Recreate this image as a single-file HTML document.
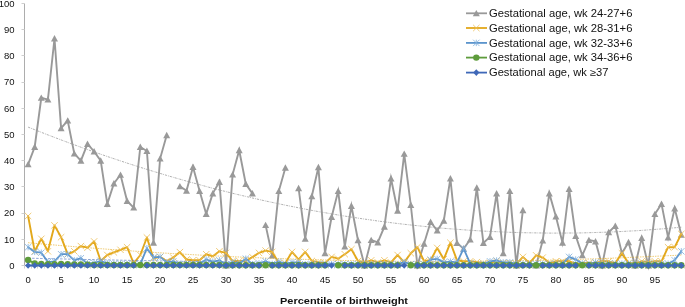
<!DOCTYPE html>
<html><head><meta charset="utf-8"><title>chart</title><style>html,body{margin:0;padding:0;background:#fff}</style></head><body>
<svg width="685" height="307" viewBox="0 0 685 307" style="display:block;will-change:transform">
<rect width="685" height="307" fill="#fff"/>
<path d="M24.5 3.5V265.5H685" stroke="#adadad" stroke-width="1" fill="none"/>
<path d="M21.5 265.5H24.5M21.5 239.5H24.5M21.5 213.5H24.5M21.5 186.5H24.5M21.5 160.5H24.5M21.5 134.5H24.5M21.5 108.5H24.5M21.5 82.5H24.5M21.5 55.5H24.5M21.5 29.5H24.5M21.5 3.5H24.5M24.5 265.5V268.5M31.5 265.5V268.5M37.5 265.5V268.5M44.5 265.5V268.5M51.5 265.5V268.5M57.5 265.5V268.5M64.5 265.5V268.5M70.5 265.5V268.5M77.5 265.5V268.5M84.5 265.5V268.5M90.5 265.5V268.5M97.5 265.5V268.5M103.5 265.5V268.5M110.5 265.5V268.5M117.5 265.5V268.5M123.5 265.5V268.5M130.5 265.5V268.5M136.5 265.5V268.5M143.5 265.5V268.5M150.5 265.5V268.5M156.5 265.5V268.5M163.5 265.5V268.5M169.5 265.5V268.5M176.5 265.5V268.5M183.5 265.5V268.5M189.5 265.5V268.5M196.5 265.5V268.5M202.5 265.5V268.5M209.5 265.5V268.5M216.5 265.5V268.5M222.5 265.5V268.5M229.5 265.5V268.5M235.5 265.5V268.5M242.5 265.5V268.5M249.5 265.5V268.5M255.5 265.5V268.5M262.5 265.5V268.5M268.5 265.5V268.5M275.5 265.5V268.5M282.5 265.5V268.5M288.5 265.5V268.5M295.5 265.5V268.5M301.5 265.5V268.5M308.5 265.5V268.5M315.5 265.5V268.5M321.5 265.5V268.5M328.5 265.5V268.5M334.5 265.5V268.5M341.5 265.5V268.5M348.5 265.5V268.5M354.5 265.5V268.5M361.5 265.5V268.5M367.5 265.5V268.5M374.5 265.5V268.5M381.5 265.5V268.5M387.5 265.5V268.5M394.5 265.5V268.5M400.5 265.5V268.5M407.5 265.5V268.5M414.5 265.5V268.5M420.5 265.5V268.5M427.5 265.5V268.5M433.5 265.5V268.5M440.5 265.5V268.5M447.5 265.5V268.5M453.5 265.5V268.5M460.5 265.5V268.5M466.5 265.5V268.5M473.5 265.5V268.5M480.5 265.5V268.5M486.5 265.5V268.5M493.5 265.5V268.5M499.5 265.5V268.5M506.5 265.5V268.5M513.5 265.5V268.5M519.5 265.5V268.5M526.5 265.5V268.5M532.5 265.5V268.5M539.5 265.5V268.5M546.5 265.5V268.5M552.5 265.5V268.5M559.5 265.5V268.5M565.5 265.5V268.5M572.5 265.5V268.5M579.5 265.5V268.5M585.5 265.5V268.5M592.5 265.5V268.5M598.5 265.5V268.5M605.5 265.5V268.5M612.5 265.5V268.5M618.5 265.5V268.5M625.5 265.5V268.5M631.5 265.5V268.5M638.5 265.5V268.5M645.5 265.5V268.5M651.5 265.5V268.5M658.5 265.5V268.5M664.5 265.5V268.5M671.5 265.5V268.5M678.5 265.5V268.5M684.5 265.5V268.5" stroke="#cfcfcf" stroke-width="1" fill="none"/>
<g font-family="Liberation Sans, sans-serif" font-size="9.5" fill="#111">
<text x="14.6" y="268.8" text-anchor="end">0</text>
<text x="14.6" y="242.6" text-anchor="end">10</text>
<text x="14.6" y="216.4" text-anchor="end">20</text>
<text x="14.6" y="190.2" text-anchor="end">30</text>
<text x="14.6" y="164.0" text-anchor="end">40</text>
<text x="14.6" y="137.8" text-anchor="end">50</text>
<text x="14.6" y="111.5" text-anchor="end">60</text>
<text x="14.6" y="85.3" text-anchor="end">70</text>
<text x="14.6" y="59.1" text-anchor="end">80</text>
<text x="14.6" y="32.9" text-anchor="end">90</text>
<text x="14.6" y="6.7" text-anchor="end">100</text>
<text x="28.1" y="282.5" text-anchor="middle">0</text>
<text x="61.1" y="282.5" text-anchor="middle">5</text>
<text x="94.1" y="282.5" text-anchor="middle">10</text>
<text x="127.1" y="282.5" text-anchor="middle">15</text>
<text x="160.1" y="282.5" text-anchor="middle">20</text>
<text x="193.0" y="282.5" text-anchor="middle">25</text>
<text x="226.0" y="282.5" text-anchor="middle">30</text>
<text x="259.0" y="282.5" text-anchor="middle">35</text>
<text x="292.0" y="282.5" text-anchor="middle">40</text>
<text x="325.0" y="282.5" text-anchor="middle">45</text>
<text x="358.0" y="282.5" text-anchor="middle">50</text>
<text x="391.0" y="282.5" text-anchor="middle">55</text>
<text x="424.0" y="282.5" text-anchor="middle">60</text>
<text x="457.0" y="282.5" text-anchor="middle">65</text>
<text x="490.0" y="282.5" text-anchor="middle">70</text>
<text x="522.9" y="282.5" text-anchor="middle">75</text>
<text x="555.9" y="282.5" text-anchor="middle">80</text>
<text x="588.9" y="282.5" text-anchor="middle">85</text>
<text x="621.9" y="282.5" text-anchor="middle">90</text>
<text x="654.9" y="282.5" text-anchor="middle">95</text>
</g>
<text x="344" y="303.6" text-anchor="middle" font-family="Liberation Sans, sans-serif" font-weight="bold" font-size="9.7" fill="#111" textLength="128" lengthAdjust="spacingAndGlyphs">Percentile of birthweight</text>
<polyline fill="none" stroke="#7a7a7a" stroke-width="0.6" stroke-dasharray="2.2 1 0.8 1" points="28.1,127.1 34.7,129.7 41.3,132.3 47.9,134.9 54.5,137.4 61.1,139.9 67.7,142.4 74.3,144.8 80.9,147.2 87.5,149.6 94.1,151.9 100.7,154.2 107.3,156.5 113.9,158.7 120.5,160.9 127.1,163.1 133.7,165.2 140.3,167.3 146.9,169.4 153.5,171.4 160.1,173.4 166.7,175.4 173.3,177.3 179.9,179.2 186.5,181.1 193.0,182.9 199.6,184.7 206.2,186.5 212.8,188.3 219.4,190.0 226.0,191.6 232.6,193.3 239.2,194.9 245.8,196.4 252.4,198.0 259.0,199.5 265.6,201.0 272.2,202.4 278.8,203.8 285.4,205.2 292.0,206.5 298.6,207.8 305.2,209.1 311.8,210.4 318.4,211.6 325.0,212.7 331.6,213.9 338.2,215.0 344.8,216.1 351.4,217.1 358.0,218.1 364.6,219.1 371.2,220.0 377.8,221.0 384.4,221.8 391.0,222.7 397.6,223.5 404.2,224.3 410.8,225.0 417.4,225.7 424.0,226.4 430.6,227.1 437.2,227.7 443.8,228.3 450.4,228.8 457.0,229.3 463.6,229.8 470.2,230.3 476.8,230.7 483.4,231.1 490.0,231.4 496.6,231.7 503.2,232.0 509.8,232.3 516.4,232.5 522.9,232.7 529.5,232.8 536.1,232.9 542.7,233.0 549.3,233.1 555.9,233.1 562.5,233.1 569.1,233.0 575.7,233.0 582.3,232.9 588.9,232.7 595.5,232.5 602.1,232.3 608.7,232.1 615.3,231.8 621.9,231.5 628.5,231.1 635.1,230.8 641.7,230.4 648.3,229.9 654.9,229.4 661.5,228.9 668.1,228.4 674.7,227.8 681.3,227.2"/>

<polyline fill="none" stroke="#999999" stroke-width="1.9" stroke-linejoin="miter" stroke-miterlimit="6" stroke-linecap="round" points="28.1,164.3 34.7,147.0 41.3,97.8 47.9,99.6 54.5,38.5 61.1,128.2 67.7,120.6 74.3,153.6 80.9,160.7 87.5,143.9 94.1,151.5 100.7,160.7 107.3,203.9 113.9,183.5 120.5,174.8 127.1,201.0 133.7,207.6 140.3,147.0 146.9,151.0 153.5,242.7 160.1,158.6 166.7,135.2"/>
<polyline fill="none" stroke="#999999" stroke-width="1.9" stroke-linejoin="miter" stroke-miterlimit="6" stroke-linecap="round" points="179.9,186.3 186.5,190.8 193.0,167.0 199.6,191.1 206.2,213.9 212.8,193.4 219.4,181.9 226.0,265.5 232.6,174.6 239.2,150.2 245.8,184.0 252.4,193.4"/>
<polyline fill="none" stroke="#999999" stroke-width="1.9" stroke-linejoin="miter" stroke-miterlimit="6" stroke-linecap="round" points="265.6,225.1 272.2,255.5 278.8,191.1 285.4,167.7"/>
<polyline fill="none" stroke="#999999" stroke-width="1.9" stroke-linejoin="miter" stroke-miterlimit="6" stroke-linecap="round" points="298.6,188.2 305.2,238.8 311.8,196.3 318.4,167.2 325.0,253.2 331.6,217.0 338.2,191.1 344.8,246.6 351.4,206.0 358.0,240.3 364.6,265.5 371.2,240.1 377.8,242.4 384.4,226.7 391.0,178.5 397.6,210.7 404.2,153.8 410.8,205.0 417.4,265.5 424.0,243.7 430.6,222.0 437.2,230.6 443.8,220.7 450.4,178.5 457.0,243.0 463.6,248.7 470.2,239.6 476.8,187.7 483.4,243.0 490.0,236.9 496.6,193.4 503.2,253.2 509.8,191.1 516.4,265.5 522.9,210.2"/>
<polyline fill="none" stroke="#999999" stroke-width="1.9" stroke-linejoin="miter" stroke-miterlimit="6" stroke-linecap="round" points="536.1,265.5 542.7,240.6 549.3,193.4 555.9,216.5 562.5,242.7 569.1,189.0 575.7,235.9 582.3,255.3 588.9,240.1 595.5,241.4 602.1,265.5 608.7,232.2 615.3,225.9 621.9,253.2 628.5,242.2 635.1,265.5 641.7,238.0 648.3,265.5 654.9,214.1 661.5,203.9 668.1,237.5 674.7,208.4 681.3,234.8"/>

<path d="M28.1 160.9L31.6 167.3L24.6 167.3Z" fill="#999999"/>
<path d="M34.7 143.6L38.2 150.0L31.2 150.0Z" fill="#999999"/>
<path d="M41.3 94.4L44.8 100.8L37.8 100.8Z" fill="#999999"/>
<path d="M47.9 96.2L51.4 102.6L44.4 102.6Z" fill="#999999"/>
<path d="M54.5 35.1L58.0 41.5L51.0 41.5Z" fill="#999999"/>
<path d="M61.1 124.8L64.6 131.2L57.6 131.2Z" fill="#999999"/>
<path d="M67.7 117.2L71.2 123.6L64.2 123.6Z" fill="#999999"/>
<path d="M74.3 150.2L77.8 156.6L70.8 156.6Z" fill="#999999"/>
<path d="M80.9 157.3L84.4 163.7L77.4 163.7Z" fill="#999999"/>
<path d="M87.5 140.5L91.0 146.9L84.0 146.9Z" fill="#999999"/>
<path d="M94.1 148.1L97.6 154.5L90.6 154.5Z" fill="#999999"/>
<path d="M100.7 157.3L104.2 163.7L97.2 163.7Z" fill="#999999"/>
<path d="M107.3 200.5L110.8 206.9L103.8 206.9Z" fill="#999999"/>
<path d="M113.9 180.1L117.4 186.5L110.4 186.5Z" fill="#999999"/>
<path d="M120.5 171.4L124.0 177.8L117.0 177.8Z" fill="#999999"/>
<path d="M127.1 197.6L130.6 204.0L123.6 204.0Z" fill="#999999"/>
<path d="M133.7 204.2L137.2 210.6L130.2 210.6Z" fill="#999999"/>
<path d="M140.3 143.6L143.8 150.0L136.8 150.0Z" fill="#999999"/>
<path d="M146.9 147.6L150.4 154.0L143.4 154.0Z" fill="#999999"/>
<path d="M153.5 239.3L157.0 245.7L150.0 245.7Z" fill="#999999"/>
<path d="M160.1 155.2L163.6 161.6L156.6 161.6Z" fill="#999999"/>
<path d="M166.7 131.8L170.2 138.2L163.2 138.2Z" fill="#999999"/>
<path d="M179.9 182.9L183.4 189.3L176.4 189.3Z" fill="#999999"/>
<path d="M186.5 187.4L190.0 193.8L183.0 193.8Z" fill="#999999"/>
<path d="M193.0 163.6L196.5 170.0L189.5 170.0Z" fill="#999999"/>
<path d="M199.6 187.7L203.1 194.1L196.1 194.1Z" fill="#999999"/>
<path d="M206.2 210.5L209.7 216.9L202.7 216.9Z" fill="#999999"/>
<path d="M212.8 190.0L216.3 196.4L209.3 196.4Z" fill="#999999"/>
<path d="M219.4 178.5L222.9 184.9L215.9 184.9Z" fill="#999999"/>
<path d="M226.0 262.1L229.5 268.5L222.5 268.5Z" fill="#999999"/>
<path d="M232.6 171.2L236.1 177.6L229.1 177.6Z" fill="#999999"/>
<path d="M239.2 146.8L242.7 153.2L235.7 153.2Z" fill="#999999"/>
<path d="M245.8 180.6L249.3 187.0L242.3 187.0Z" fill="#999999"/>
<path d="M252.4 190.0L255.9 196.4L248.9 196.4Z" fill="#999999"/>
<path d="M265.6 221.7L269.1 228.1L262.1 228.1Z" fill="#999999"/>
<path d="M272.2 252.1L275.7 258.5L268.7 258.5Z" fill="#999999"/>
<path d="M278.8 187.7L282.3 194.1L275.3 194.1Z" fill="#999999"/>
<path d="M285.4 164.3L288.9 170.7L281.9 170.7Z" fill="#999999"/>
<path d="M298.6 184.8L302.1 191.2L295.1 191.2Z" fill="#999999"/>
<path d="M305.2 235.4L308.7 241.8L301.7 241.8Z" fill="#999999"/>
<path d="M311.8 192.9L315.3 199.3L308.3 199.3Z" fill="#999999"/>
<path d="M318.4 163.8L321.9 170.2L314.9 170.2Z" fill="#999999"/>
<path d="M325.0 249.8L328.5 256.2L321.5 256.2Z" fill="#999999"/>
<path d="M331.6 213.6L335.1 220.0L328.1 220.0Z" fill="#999999"/>
<path d="M338.2 187.7L341.7 194.1L334.7 194.1Z" fill="#999999"/>
<path d="M344.8 243.2L348.3 249.6L341.3 249.6Z" fill="#999999"/>
<path d="M351.4 202.6L354.9 209.0L347.9 209.0Z" fill="#999999"/>
<path d="M358.0 236.9L361.5 243.3L354.5 243.3Z" fill="#999999"/>
<path d="M364.6 262.1L368.1 268.5L361.1 268.5Z" fill="#999999"/>
<path d="M371.2 236.7L374.7 243.1L367.7 243.1Z" fill="#999999"/>
<path d="M377.8 239.0L381.3 245.4L374.3 245.4Z" fill="#999999"/>
<path d="M384.4 223.3L387.9 229.7L380.9 229.7Z" fill="#999999"/>
<path d="M391.0 175.1L394.5 181.5L387.5 181.5Z" fill="#999999"/>
<path d="M397.6 207.3L401.1 213.7L394.1 213.7Z" fill="#999999"/>
<path d="M404.2 150.4L407.7 156.8L400.7 156.8Z" fill="#999999"/>
<path d="M410.8 201.6L414.3 208.0L407.3 208.0Z" fill="#999999"/>
<path d="M417.4 262.1L420.9 268.5L413.9 268.5Z" fill="#999999"/>
<path d="M424.0 240.3L427.5 246.7L420.5 246.7Z" fill="#999999"/>
<path d="M430.6 218.6L434.1 225.0L427.1 225.0Z" fill="#999999"/>
<path d="M437.2 227.2L440.7 233.6L433.7 233.6Z" fill="#999999"/>
<path d="M443.8 217.3L447.3 223.7L440.3 223.7Z" fill="#999999"/>
<path d="M450.4 175.1L453.9 181.5L446.9 181.5Z" fill="#999999"/>
<path d="M457.0 239.6L460.5 246.0L453.5 246.0Z" fill="#999999"/>
<path d="M463.6 245.3L467.1 251.7L460.1 251.7Z" fill="#999999"/>
<path d="M470.2 236.2L473.7 242.6L466.7 242.6Z" fill="#999999"/>
<path d="M476.8 184.3L480.3 190.7L473.3 190.7Z" fill="#999999"/>
<path d="M483.4 239.6L486.9 246.0L479.9 246.0Z" fill="#999999"/>
<path d="M490.0 233.5L493.5 239.9L486.5 239.9Z" fill="#999999"/>
<path d="M496.6 190.0L500.1 196.4L493.1 196.4Z" fill="#999999"/>
<path d="M503.2 249.8L506.7 256.2L499.7 256.2Z" fill="#999999"/>
<path d="M509.8 187.7L513.3 194.1L506.3 194.1Z" fill="#999999"/>
<path d="M516.4 262.1L519.9 268.5L512.9 268.5Z" fill="#999999"/>
<path d="M522.9 206.8L526.4 213.2L519.4 213.2Z" fill="#999999"/>
<path d="M536.1 262.1L539.6 268.5L532.6 268.5Z" fill="#999999"/>
<path d="M542.7 237.2L546.2 243.6L539.2 243.6Z" fill="#999999"/>
<path d="M549.3 190.0L552.8 196.4L545.8 196.4Z" fill="#999999"/>
<path d="M555.9 213.1L559.4 219.5L552.4 219.5Z" fill="#999999"/>
<path d="M562.5 239.3L566.0 245.7L559.0 245.7Z" fill="#999999"/>
<path d="M569.1 185.6L572.6 192.0L565.6 192.0Z" fill="#999999"/>
<path d="M575.7 232.5L579.2 238.9L572.2 238.9Z" fill="#999999"/>
<path d="M582.3 251.9L585.8 258.3L578.8 258.3Z" fill="#999999"/>
<path d="M588.9 236.7L592.4 243.1L585.4 243.1Z" fill="#999999"/>
<path d="M595.5 238.0L599.0 244.4L592.0 244.4Z" fill="#999999"/>
<path d="M602.1 262.1L605.6 268.5L598.6 268.5Z" fill="#999999"/>
<path d="M608.7 228.8L612.2 235.2L605.2 235.2Z" fill="#999999"/>
<path d="M615.3 222.5L618.8 228.9L611.8 228.9Z" fill="#999999"/>
<path d="M621.9 249.8L625.4 256.2L618.4 256.2Z" fill="#999999"/>
<path d="M628.5 238.8L632.0 245.2L625.0 245.2Z" fill="#999999"/>
<path d="M635.1 262.1L638.6 268.5L631.6 268.5Z" fill="#999999"/>
<path d="M641.7 234.6L645.2 241.0L638.2 241.0Z" fill="#999999"/>
<path d="M648.3 262.1L651.8 268.5L644.8 268.5Z" fill="#999999"/>
<path d="M654.9 210.7L658.4 217.1L651.4 217.1Z" fill="#999999"/>
<path d="M661.5 200.5L665.0 206.9L658.0 206.9Z" fill="#999999"/>
<path d="M668.1 234.1L671.6 240.5L664.6 240.5Z" fill="#999999"/>
<path d="M674.7 205.0L678.2 211.4L671.2 211.4Z" fill="#999999"/>
<path d="M681.3 231.4L684.8 237.8L677.8 237.8Z" fill="#999999"/>

<polyline fill="none" stroke="#E3A81A" stroke-width="0.6" stroke-dasharray="1.5 1" points="28.1,242.7 34.7,243.3 41.3,243.9 47.9,244.5 54.5,245.0 61.1,245.6 67.7,246.1 74.3,246.7 80.9,247.2 87.5,247.7 94.1,248.2 100.7,248.7 107.3,249.2 113.9,249.7 120.5,250.2 127.1,250.6 133.7,251.1 140.3,251.5 146.9,252.0 153.5,252.4 160.1,252.8 166.7,253.2 173.3,253.6 179.9,254.0 186.5,254.3 193.0,254.7 199.6,255.1 206.2,255.4 212.8,255.8 219.4,256.1 226.0,256.4 232.6,256.7 239.2,257.0 245.8,257.3 252.4,257.6 259.0,257.8 265.6,258.1 272.2,258.3 278.8,258.6 285.4,258.8 292.0,259.0 298.6,259.2 305.2,259.4 311.8,259.6 318.4,259.8 325.0,260.0 331.6,260.2 338.2,260.3 344.8,260.5 351.4,260.6 358.0,260.7 364.6,260.8 371.2,260.9 377.8,261.0 384.4,261.1 391.0,261.2 397.6,261.3 404.2,261.3 410.8,261.4 417.4,261.4 424.0,261.4 430.6,261.4 437.2,261.5 443.8,261.5 450.4,261.4 457.0,261.4 463.6,261.4 470.2,261.4 476.8,261.3 483.4,261.2 490.0,261.2 496.6,261.1 503.2,261.0 509.8,260.9 516.4,260.8 522.9,260.7 529.5,260.6 536.1,260.4 542.7,260.3 549.3,260.1 555.9,260.0 562.5,259.8 569.1,259.6 575.7,259.4 582.3,259.2 588.9,259.0 595.5,258.8 602.1,258.5 608.7,258.3 615.3,258.0 621.9,257.8 628.5,257.5 635.1,257.2 641.7,256.9 648.3,256.6 654.9,256.3 661.5,256.0 668.1,255.7 674.7,255.4 681.3,255.0"/>

<polyline fill="none" stroke="#E3A81A" stroke-width="1.9" stroke-linejoin="round" stroke-miterlimit="6" stroke-linecap="round" points="28.1,216.0 34.7,251.3 41.3,238.8 47.9,251.3 54.5,225.4 61.1,237.2 67.7,254.2 74.3,251.3 80.9,246.1 87.5,247.7 94.1,241.4 100.7,261.0 107.3,255.0 113.9,252.4 120.5,249.8 127.1,247.2 133.7,263.4 140.3,255.0 146.9,237.5 153.5,258.4 160.1,256.9 166.7,261.0 173.3,257.6 179.9,252.1 186.5,259.5 193.0,260.3 199.6,260.3 206.2,254.2 212.8,256.3 219.4,251.3 226.0,252.9 232.6,261.0 239.2,261.0 245.8,261.0 252.4,257.1 259.0,252.9 265.6,250.6 272.2,251.9 278.8,263.1 285.4,263.1 292.0,251.9 298.6,259.5 305.2,251.9 311.8,261.0 318.4,262.1 325.0,263.1 331.6,256.9 338.2,258.7 344.8,254.2 351.4,249.2 358.0,261.0 364.6,262.9 371.2,260.3 377.8,262.4 384.4,260.3 391.0,262.4 397.6,255.0 404.2,262.4 410.8,253.2 417.4,247.2 424.0,261.0 430.6,260.3 437.2,247.9 443.8,259.2 450.4,242.7 457.0,260.3 463.6,261.3 470.2,261.3 476.8,262.1 483.4,263.1 490.0,262.9 496.6,261.0 503.2,263.1 509.8,263.1 516.4,264.2 522.9,256.9 529.5,263.1 536.1,255.3 542.7,257.6 549.3,263.1 555.9,261.3 562.5,261.3 569.1,261.0 575.7,264.2 582.3,263.1 588.9,262.9 595.5,262.9 602.1,261.3 608.7,261.3 615.3,263.1 621.9,253.2 628.5,263.1 635.1,263.1 641.7,261.3 648.3,262.1 654.9,261.3 661.5,261.3 668.1,247.2 674.7,247.2 681.3,234.0"/>

<path d="M24.9 212.8L31.3 219.2M24.9 219.2L31.3 212.8" stroke="#ECBE55" stroke-width="0.8" fill="none"/>
<path d="M31.5 248.1L37.9 254.5M31.5 254.5L37.9 248.1" stroke="#ECBE55" stroke-width="0.8" fill="none"/>
<path d="M38.1 235.6L44.5 242.0M38.1 242.0L44.5 235.6" stroke="#ECBE55" stroke-width="0.8" fill="none"/>
<path d="M44.7 248.1L51.1 254.5M44.7 254.5L51.1 248.1" stroke="#ECBE55" stroke-width="0.8" fill="none"/>
<path d="M51.3 222.2L57.7 228.6M51.3 228.6L57.7 222.2" stroke="#ECBE55" stroke-width="0.8" fill="none"/>
<path d="M57.9 234.0L64.3 240.4M57.9 240.4L64.3 234.0" stroke="#ECBE55" stroke-width="0.8" fill="none"/>
<path d="M64.5 251.0L70.9 257.4M64.5 257.4L70.9 251.0" stroke="#ECBE55" stroke-width="0.8" fill="none"/>
<path d="M71.1 248.1L77.5 254.5M71.1 254.5L77.5 248.1" stroke="#ECBE55" stroke-width="0.8" fill="none"/>
<path d="M77.7 242.9L84.1 249.3M77.7 249.3L84.1 242.9" stroke="#ECBE55" stroke-width="0.8" fill="none"/>
<path d="M84.3 244.5L90.7 250.9M84.3 250.9L90.7 244.5" stroke="#ECBE55" stroke-width="0.8" fill="none"/>
<path d="M90.9 238.2L97.3 244.6M90.9 244.6L97.3 238.2" stroke="#ECBE55" stroke-width="0.8" fill="none"/>
<path d="M97.5 257.8L103.9 264.2M97.5 264.2L103.9 257.8" stroke="#ECBE55" stroke-width="0.8" fill="none"/>
<path d="M104.1 251.8L110.5 258.2M104.1 258.2L110.5 251.8" stroke="#ECBE55" stroke-width="0.8" fill="none"/>
<path d="M110.7 249.2L117.1 255.6M110.7 255.6L117.1 249.2" stroke="#ECBE55" stroke-width="0.8" fill="none"/>
<path d="M117.3 246.6L123.7 253.0M117.3 253.0L123.7 246.6" stroke="#ECBE55" stroke-width="0.8" fill="none"/>
<path d="M123.9 244.0L130.3 250.4M123.9 250.4L130.3 244.0" stroke="#ECBE55" stroke-width="0.8" fill="none"/>
<path d="M130.5 260.2L136.9 266.6M130.5 266.6L136.9 260.2" stroke="#ECBE55" stroke-width="0.8" fill="none"/>
<path d="M137.1 251.8L143.5 258.2M137.1 258.2L143.5 251.8" stroke="#ECBE55" stroke-width="0.8" fill="none"/>
<path d="M143.7 234.3L150.1 240.7M143.7 240.7L150.1 234.3" stroke="#ECBE55" stroke-width="0.8" fill="none"/>
<path d="M150.3 255.2L156.7 261.6M150.3 261.6L156.7 255.2" stroke="#ECBE55" stroke-width="0.8" fill="none"/>
<path d="M156.9 253.7L163.3 260.1M156.9 260.1L163.3 253.7" stroke="#ECBE55" stroke-width="0.8" fill="none"/>
<path d="M163.5 257.8L169.9 264.2M163.5 264.2L169.9 257.8" stroke="#ECBE55" stroke-width="0.8" fill="none"/>
<path d="M170.1 254.4L176.5 260.8M170.1 260.8L176.5 254.4" stroke="#ECBE55" stroke-width="0.8" fill="none"/>
<path d="M176.7 248.9L183.1 255.3M176.7 255.3L183.1 248.9" stroke="#ECBE55" stroke-width="0.8" fill="none"/>
<path d="M183.3 256.3L189.7 262.7M183.3 262.7L189.7 256.3" stroke="#ECBE55" stroke-width="0.8" fill="none"/>
<path d="M189.8 257.1L196.2 263.5M189.8 263.5L196.2 257.1" stroke="#ECBE55" stroke-width="0.8" fill="none"/>
<path d="M196.4 257.1L202.8 263.5M196.4 263.5L202.8 257.1" stroke="#ECBE55" stroke-width="0.8" fill="none"/>
<path d="M203.0 251.0L209.4 257.4M203.0 257.4L209.4 251.0" stroke="#ECBE55" stroke-width="0.8" fill="none"/>
<path d="M209.6 253.1L216.0 259.5M209.6 259.5L216.0 253.1" stroke="#ECBE55" stroke-width="0.8" fill="none"/>
<path d="M216.2 248.1L222.6 254.5M216.2 254.5L222.6 248.1" stroke="#ECBE55" stroke-width="0.8" fill="none"/>
<path d="M222.8 249.7L229.2 256.1M222.8 256.1L229.2 249.7" stroke="#ECBE55" stroke-width="0.8" fill="none"/>
<path d="M229.4 257.8L235.8 264.2M229.4 264.2L235.8 257.8" stroke="#ECBE55" stroke-width="0.8" fill="none"/>
<path d="M236.0 257.8L242.4 264.2M236.0 264.2L242.4 257.8" stroke="#ECBE55" stroke-width="0.8" fill="none"/>
<path d="M242.6 257.8L249.0 264.2M242.6 264.2L249.0 257.8" stroke="#ECBE55" stroke-width="0.8" fill="none"/>
<path d="M249.2 253.9L255.6 260.3M249.2 260.3L255.6 253.9" stroke="#ECBE55" stroke-width="0.8" fill="none"/>
<path d="M255.8 249.7L262.2 256.1M255.8 256.1L262.2 249.7" stroke="#ECBE55" stroke-width="0.8" fill="none"/>
<path d="M262.4 247.4L268.8 253.8M262.4 253.8L268.8 247.4" stroke="#ECBE55" stroke-width="0.8" fill="none"/>
<path d="M269.0 248.7L275.4 255.1M269.0 255.1L275.4 248.7" stroke="#ECBE55" stroke-width="0.8" fill="none"/>
<path d="M275.6 259.9L282.0 266.3M275.6 266.3L282.0 259.9" stroke="#ECBE55" stroke-width="0.8" fill="none"/>
<path d="M282.2 259.9L288.6 266.3M282.2 266.3L288.6 259.9" stroke="#ECBE55" stroke-width="0.8" fill="none"/>
<path d="M288.8 248.7L295.2 255.1M288.8 255.1L295.2 248.7" stroke="#ECBE55" stroke-width="0.8" fill="none"/>
<path d="M295.4 256.3L301.8 262.7M295.4 262.7L301.8 256.3" stroke="#ECBE55" stroke-width="0.8" fill="none"/>
<path d="M302.0 248.7L308.4 255.1M302.0 255.1L308.4 248.7" stroke="#ECBE55" stroke-width="0.8" fill="none"/>
<path d="M308.6 257.8L315.0 264.2M308.6 264.2L315.0 257.8" stroke="#ECBE55" stroke-width="0.8" fill="none"/>
<path d="M315.2 258.9L321.6 265.3M315.2 265.3L321.6 258.9" stroke="#ECBE55" stroke-width="0.8" fill="none"/>
<path d="M321.8 259.9L328.2 266.3M321.8 266.3L328.2 259.9" stroke="#ECBE55" stroke-width="0.8" fill="none"/>
<path d="M328.4 253.7L334.8 260.1M328.4 260.1L334.8 253.7" stroke="#ECBE55" stroke-width="0.8" fill="none"/>
<path d="M335.0 255.5L341.4 261.9M335.0 261.9L341.4 255.5" stroke="#ECBE55" stroke-width="0.8" fill="none"/>
<path d="M341.6 251.0L348.0 257.4M341.6 257.4L348.0 251.0" stroke="#ECBE55" stroke-width="0.8" fill="none"/>
<path d="M348.2 246.0L354.6 252.4M348.2 252.4L354.6 246.0" stroke="#ECBE55" stroke-width="0.8" fill="none"/>
<path d="M354.8 257.8L361.2 264.2M354.8 264.2L361.2 257.8" stroke="#ECBE55" stroke-width="0.8" fill="none"/>
<path d="M361.4 259.7L367.8 266.1M361.4 266.1L367.8 259.7" stroke="#ECBE55" stroke-width="0.8" fill="none"/>
<path d="M368.0 257.1L374.4 263.5M368.0 263.5L374.4 257.1" stroke="#ECBE55" stroke-width="0.8" fill="none"/>
<path d="M374.6 259.2L381.0 265.6M374.6 265.6L381.0 259.2" stroke="#ECBE55" stroke-width="0.8" fill="none"/>
<path d="M381.2 257.1L387.6 263.5M381.2 263.5L387.6 257.1" stroke="#ECBE55" stroke-width="0.8" fill="none"/>
<path d="M387.8 259.2L394.2 265.6M387.8 265.6L394.2 259.2" stroke="#ECBE55" stroke-width="0.8" fill="none"/>
<path d="M394.4 251.8L400.8 258.2M394.4 258.2L400.8 251.8" stroke="#ECBE55" stroke-width="0.8" fill="none"/>
<path d="M401.0 259.2L407.4 265.6M401.0 265.6L407.4 259.2" stroke="#ECBE55" stroke-width="0.8" fill="none"/>
<path d="M407.6 250.0L414.0 256.4M407.6 256.4L414.0 250.0" stroke="#ECBE55" stroke-width="0.8" fill="none"/>
<path d="M414.2 244.0L420.6 250.4M414.2 250.4L420.6 244.0" stroke="#ECBE55" stroke-width="0.8" fill="none"/>
<path d="M420.8 257.8L427.2 264.2M420.8 264.2L427.2 257.8" stroke="#ECBE55" stroke-width="0.8" fill="none"/>
<path d="M427.4 257.1L433.8 263.5M427.4 263.5L433.8 257.1" stroke="#ECBE55" stroke-width="0.8" fill="none"/>
<path d="M434.0 244.7L440.4 251.1M434.0 251.1L440.4 244.7" stroke="#ECBE55" stroke-width="0.8" fill="none"/>
<path d="M440.6 256.0L447.0 262.4M440.6 262.4L447.0 256.0" stroke="#ECBE55" stroke-width="0.8" fill="none"/>
<path d="M447.2 239.5L453.6 245.9M447.2 245.9L453.6 239.5" stroke="#ECBE55" stroke-width="0.8" fill="none"/>
<path d="M453.8 257.1L460.2 263.5M453.8 263.5L460.2 257.1" stroke="#ECBE55" stroke-width="0.8" fill="none"/>
<path d="M460.4 258.1L466.8 264.5M460.4 264.5L466.8 258.1" stroke="#ECBE55" stroke-width="0.8" fill="none"/>
<path d="M467.0 258.1L473.4 264.5M467.0 264.5L473.4 258.1" stroke="#ECBE55" stroke-width="0.8" fill="none"/>
<path d="M473.6 258.9L480.0 265.3M473.6 265.3L480.0 258.9" stroke="#ECBE55" stroke-width="0.8" fill="none"/>
<path d="M480.2 259.9L486.6 266.3M480.2 266.3L486.6 259.9" stroke="#ECBE55" stroke-width="0.8" fill="none"/>
<path d="M486.8 259.7L493.2 266.1M486.8 266.1L493.2 259.7" stroke="#ECBE55" stroke-width="0.8" fill="none"/>
<path d="M493.4 257.8L499.8 264.2M493.4 264.2L499.8 257.8" stroke="#ECBE55" stroke-width="0.8" fill="none"/>
<path d="M500.0 259.9L506.4 266.3M500.0 266.3L506.4 259.9" stroke="#ECBE55" stroke-width="0.8" fill="none"/>
<path d="M506.6 259.9L513.0 266.3M506.6 266.3L513.0 259.9" stroke="#ECBE55" stroke-width="0.8" fill="none"/>
<path d="M513.2 261.0L519.6 267.4M513.2 267.4L519.6 261.0" stroke="#ECBE55" stroke-width="0.8" fill="none"/>
<path d="M519.7 253.7L526.1 260.1M519.7 260.1L526.1 253.7" stroke="#ECBE55" stroke-width="0.8" fill="none"/>
<path d="M526.3 259.9L532.7 266.3M526.3 266.3L532.7 259.9" stroke="#ECBE55" stroke-width="0.8" fill="none"/>
<path d="M532.9 252.1L539.3 258.5M532.9 258.5L539.3 252.1" stroke="#ECBE55" stroke-width="0.8" fill="none"/>
<path d="M539.5 254.4L545.9 260.8M539.5 260.8L545.9 254.4" stroke="#ECBE55" stroke-width="0.8" fill="none"/>
<path d="M546.1 259.9L552.5 266.3M546.1 266.3L552.5 259.9" stroke="#ECBE55" stroke-width="0.8" fill="none"/>
<path d="M552.7 258.1L559.1 264.5M552.7 264.5L559.1 258.1" stroke="#ECBE55" stroke-width="0.8" fill="none"/>
<path d="M559.3 258.1L565.7 264.5M559.3 264.5L565.7 258.1" stroke="#ECBE55" stroke-width="0.8" fill="none"/>
<path d="M565.9 257.8L572.3 264.2M565.9 264.2L572.3 257.8" stroke="#ECBE55" stroke-width="0.8" fill="none"/>
<path d="M572.5 261.0L578.9 267.4M572.5 267.4L578.9 261.0" stroke="#ECBE55" stroke-width="0.8" fill="none"/>
<path d="M579.1 259.9L585.5 266.3M579.1 266.3L585.5 259.9" stroke="#ECBE55" stroke-width="0.8" fill="none"/>
<path d="M585.7 259.7L592.1 266.1M585.7 266.1L592.1 259.7" stroke="#ECBE55" stroke-width="0.8" fill="none"/>
<path d="M592.3 259.7L598.7 266.1M592.3 266.1L598.7 259.7" stroke="#ECBE55" stroke-width="0.8" fill="none"/>
<path d="M598.9 258.1L605.3 264.5M598.9 264.5L605.3 258.1" stroke="#ECBE55" stroke-width="0.8" fill="none"/>
<path d="M605.5 258.1L611.9 264.5M605.5 264.5L611.9 258.1" stroke="#ECBE55" stroke-width="0.8" fill="none"/>
<path d="M612.1 259.9L618.5 266.3M612.1 266.3L618.5 259.9" stroke="#ECBE55" stroke-width="0.8" fill="none"/>
<path d="M618.7 250.0L625.1 256.4M618.7 256.4L625.1 250.0" stroke="#ECBE55" stroke-width="0.8" fill="none"/>
<path d="M625.3 259.9L631.7 266.3M625.3 266.3L631.7 259.9" stroke="#ECBE55" stroke-width="0.8" fill="none"/>
<path d="M631.9 259.9L638.3 266.3M631.9 266.3L638.3 259.9" stroke="#ECBE55" stroke-width="0.8" fill="none"/>
<path d="M638.5 258.1L644.9 264.5M638.5 264.5L644.9 258.1" stroke="#ECBE55" stroke-width="0.8" fill="none"/>
<path d="M645.1 258.9L651.5 265.3M645.1 265.3L651.5 258.9" stroke="#ECBE55" stroke-width="0.8" fill="none"/>
<path d="M651.7 258.1L658.1 264.5M651.7 264.5L658.1 258.1" stroke="#ECBE55" stroke-width="0.8" fill="none"/>
<path d="M658.3 258.1L664.7 264.5M658.3 264.5L664.7 258.1" stroke="#ECBE55" stroke-width="0.8" fill="none"/>
<path d="M664.9 244.0L671.3 250.4M664.9 250.4L671.3 244.0" stroke="#ECBE55" stroke-width="0.8" fill="none"/>
<path d="M671.5 244.0L677.9 250.4M671.5 250.4L677.9 244.0" stroke="#ECBE55" stroke-width="0.8" fill="none"/>
<path d="M678.1 230.8L684.5 237.2M678.1 237.2L684.5 230.8" stroke="#ECBE55" stroke-width="0.8" fill="none"/>

<polyline fill="none" stroke="#3F68B8" stroke-width="0.6" stroke-dasharray="2.5 1.5" points="28.1,258.2 34.7,258.3 41.3,258.5 47.9,258.6 54.5,258.8 61.1,258.9 67.7,259.1 74.3,259.2 80.9,259.4 87.5,259.5 94.1,259.6 100.7,259.8 107.3,259.9 113.9,260.0 120.5,260.2 127.1,260.3 133.7,260.4 140.3,260.5 146.9,260.7 153.5,260.8 160.1,260.9 166.7,261.0 173.3,261.1 179.9,261.2 186.5,261.3 193.0,261.4 199.6,261.5 206.2,261.6 212.8,261.7 219.4,261.8 226.0,261.9 232.6,262.0 239.2,262.1 245.8,262.2 252.4,262.3 259.0,262.4 265.6,262.5 272.2,262.5 278.8,262.6 285.4,262.7 292.0,262.8 298.6,262.8 305.2,262.9 311.8,263.0 318.4,263.1 325.0,263.1 331.6,263.2 338.2,263.2 344.8,263.3 351.4,263.3 358.0,263.4 364.6,263.5 371.2,263.5 377.8,263.6 384.4,263.6 391.0,263.6 397.6,263.7 404.2,263.7 410.8,263.8 417.4,263.8 424.0,263.8 430.6,263.9 437.2,263.9 443.8,263.9 450.4,263.9 457.0,264.0 463.6,264.0 470.2,264.0 476.8,264.0 483.4,264.0 490.0,264.0 496.6,264.0 503.2,264.0 509.8,264.1 516.4,264.1 522.9,264.1 529.5,264.1 536.1,264.1 542.7,264.0 549.3,264.0 555.9,264.0 562.5,264.0 569.1,264.0 575.7,264.0 582.3,264.0 588.9,264.0 595.5,263.9 602.1,263.9 608.7,263.9 615.3,263.9 621.9,263.8 628.5,263.8 635.1,263.8 641.7,263.7 648.3,263.7 654.9,263.6 661.5,263.6 668.1,263.6 674.7,263.5 681.3,263.5"/>

<polyline fill="none" stroke="#5B94CC" stroke-width="1.8" stroke-linejoin="round" stroke-miterlimit="6" stroke-linecap="round" points="28.1,247.2 34.7,251.9 41.3,252.7 47.9,262.1 54.5,261.3 61.1,254.2 67.7,254.2 74.3,260.3 80.9,258.2 87.5,263.4 94.1,262.9 100.7,261.0 107.3,263.4 113.9,263.9 120.5,263.9 127.1,264.2 133.7,264.2 140.3,264.2 146.9,248.2 153.5,257.4 160.1,256.9 166.7,262.4 173.3,261.3 179.9,264.2 186.5,264.2 193.0,264.2 199.6,263.7 206.2,259.5 212.8,261.6 219.4,260.3 226.0,264.2 232.6,262.4 239.2,263.4 245.8,258.7 252.4,264.2 259.0,263.4 265.6,261.3 272.2,263.9 278.8,261.6 285.4,263.9 292.0,262.4 298.6,262.4 305.2,264.2 311.8,264.2 318.4,264.2 325.0,264.2 331.6,264.2 338.2,264.2 344.8,264.2 351.4,264.2 358.0,264.2 364.6,264.2 371.2,264.2 377.8,264.2 384.4,264.2 391.0,264.2 397.6,264.2 404.2,262.1 410.8,264.2 417.4,264.2 424.0,264.2 430.6,259.7 437.2,258.9 443.8,262.4 450.4,261.6 457.0,262.4 463.6,248.7 470.2,263.4 476.8,264.7 483.4,264.2 490.0,261.3 496.6,260.5 503.2,262.4 509.8,262.4 516.4,263.9 522.9,263.9 529.5,263.9 536.1,263.9 542.7,263.9 549.3,263.9 555.9,263.9 562.5,263.9 569.1,256.9 575.7,259.5 582.3,263.4 588.9,264.2 595.5,262.4 602.1,263.7 608.7,263.7 615.3,263.7 621.9,263.7 628.5,263.7 635.1,263.7 641.7,263.7 648.3,263.7 654.9,263.7 661.5,263.7 668.1,263.7 674.7,260.3 681.3,251.3"/>

<path d="M24.9 244.0L31.3 250.4M24.9 250.4L31.3 244.0M28.1 244.0L28.1 250.4" stroke="#7FAEDC" stroke-width="0.8" fill="none"/>
<path d="M31.5 248.7L37.9 255.1M31.5 255.1L37.9 248.7M34.7 248.7L34.7 255.1" stroke="#7FAEDC" stroke-width="0.8" fill="none"/>
<path d="M38.1 249.5L44.5 255.9M38.1 255.9L44.5 249.5M41.3 249.5L41.3 255.9" stroke="#7FAEDC" stroke-width="0.8" fill="none"/>
<path d="M44.7 258.9L51.1 265.3M44.7 265.3L51.1 258.9M47.9 258.9L47.9 265.3" stroke="#7FAEDC" stroke-width="0.8" fill="none"/>
<path d="M51.3 258.1L57.7 264.5M51.3 264.5L57.7 258.1M54.5 258.1L54.5 264.5" stroke="#7FAEDC" stroke-width="0.8" fill="none"/>
<path d="M57.9 251.0L64.3 257.4M57.9 257.4L64.3 251.0M61.1 251.0L61.1 257.4" stroke="#7FAEDC" stroke-width="0.8" fill="none"/>
<path d="M64.5 251.0L70.9 257.4M64.5 257.4L70.9 251.0M67.7 251.0L67.7 257.4" stroke="#7FAEDC" stroke-width="0.8" fill="none"/>
<path d="M71.1 257.1L77.5 263.5M71.1 263.5L77.5 257.1M74.3 257.1L74.3 263.5" stroke="#7FAEDC" stroke-width="0.8" fill="none"/>
<path d="M77.7 255.0L84.1 261.4M77.7 261.4L84.1 255.0M80.9 255.0L80.9 261.4" stroke="#7FAEDC" stroke-width="0.8" fill="none"/>
<path d="M84.3 260.2L90.7 266.6M84.3 266.6L90.7 260.2M87.5 260.2L87.5 266.6" stroke="#7FAEDC" stroke-width="0.8" fill="none"/>
<path d="M90.9 259.7L97.3 266.1M90.9 266.1L97.3 259.7M94.1 259.7L94.1 266.1" stroke="#7FAEDC" stroke-width="0.8" fill="none"/>
<path d="M97.5 257.8L103.9 264.2M97.5 264.2L103.9 257.8M100.7 257.8L100.7 264.2" stroke="#7FAEDC" stroke-width="0.8" fill="none"/>
<path d="M104.1 260.2L110.5 266.6M104.1 266.6L110.5 260.2M107.3 260.2L107.3 266.6" stroke="#7FAEDC" stroke-width="0.8" fill="none"/>
<path d="M110.7 260.7L117.1 267.1M110.7 267.1L117.1 260.7M113.9 260.7L113.9 267.1" stroke="#7FAEDC" stroke-width="0.8" fill="none"/>
<path d="M117.3 260.7L123.7 267.1M117.3 267.1L123.7 260.7M120.5 260.7L120.5 267.1" stroke="#7FAEDC" stroke-width="0.8" fill="none"/>
<path d="M123.9 261.0L130.3 267.4M123.9 267.4L130.3 261.0M127.1 261.0L127.1 267.4" stroke="#7FAEDC" stroke-width="0.8" fill="none"/>
<path d="M130.5 261.0L136.9 267.4M130.5 267.4L136.9 261.0M133.7 261.0L133.7 267.4" stroke="#7FAEDC" stroke-width="0.8" fill="none"/>
<path d="M137.1 261.0L143.5 267.4M137.1 267.4L143.5 261.0M140.3 261.0L140.3 267.4" stroke="#7FAEDC" stroke-width="0.8" fill="none"/>
<path d="M143.7 245.0L150.1 251.4M143.7 251.4L150.1 245.0M146.9 245.0L146.9 251.4" stroke="#7FAEDC" stroke-width="0.8" fill="none"/>
<path d="M150.3 254.2L156.7 260.6M150.3 260.6L156.7 254.2M153.5 254.2L153.5 260.6" stroke="#7FAEDC" stroke-width="0.8" fill="none"/>
<path d="M156.9 253.7L163.3 260.1M156.9 260.1L163.3 253.7M160.1 253.7L160.1 260.1" stroke="#7FAEDC" stroke-width="0.8" fill="none"/>
<path d="M163.5 259.2L169.9 265.6M163.5 265.6L169.9 259.2M166.7 259.2L166.7 265.6" stroke="#7FAEDC" stroke-width="0.8" fill="none"/>
<path d="M170.1 258.1L176.5 264.5M170.1 264.5L176.5 258.1M173.3 258.1L173.3 264.5" stroke="#7FAEDC" stroke-width="0.8" fill="none"/>
<path d="M176.7 261.0L183.1 267.4M176.7 267.4L183.1 261.0M179.9 261.0L179.9 267.4" stroke="#7FAEDC" stroke-width="0.8" fill="none"/>
<path d="M183.3 261.0L189.7 267.4M183.3 267.4L189.7 261.0M186.5 261.0L186.5 267.4" stroke="#7FAEDC" stroke-width="0.8" fill="none"/>
<path d="M189.8 261.0L196.2 267.4M189.8 267.4L196.2 261.0M193.0 261.0L193.0 267.4" stroke="#7FAEDC" stroke-width="0.8" fill="none"/>
<path d="M196.4 260.5L202.8 266.9M196.4 266.9L202.8 260.5M199.6 260.5L199.6 266.9" stroke="#7FAEDC" stroke-width="0.8" fill="none"/>
<path d="M203.0 256.3L209.4 262.7M203.0 262.7L209.4 256.3M206.2 256.3L206.2 262.7" stroke="#7FAEDC" stroke-width="0.8" fill="none"/>
<path d="M209.6 258.4L216.0 264.8M209.6 264.8L216.0 258.4M212.8 258.4L212.8 264.8" stroke="#7FAEDC" stroke-width="0.8" fill="none"/>
<path d="M216.2 257.1L222.6 263.5M216.2 263.5L222.6 257.1M219.4 257.1L219.4 263.5" stroke="#7FAEDC" stroke-width="0.8" fill="none"/>
<path d="M222.8 261.0L229.2 267.4M222.8 267.4L229.2 261.0M226.0 261.0L226.0 267.4" stroke="#7FAEDC" stroke-width="0.8" fill="none"/>
<path d="M229.4 259.2L235.8 265.6M229.4 265.6L235.8 259.2M232.6 259.2L232.6 265.6" stroke="#7FAEDC" stroke-width="0.8" fill="none"/>
<path d="M236.0 260.2L242.4 266.6M236.0 266.6L242.4 260.2M239.2 260.2L239.2 266.6" stroke="#7FAEDC" stroke-width="0.8" fill="none"/>
<path d="M242.6 255.5L249.0 261.9M242.6 261.9L249.0 255.5M245.8 255.5L245.8 261.9" stroke="#7FAEDC" stroke-width="0.8" fill="none"/>
<path d="M249.2 261.0L255.6 267.4M249.2 267.4L255.6 261.0M252.4 261.0L252.4 267.4" stroke="#7FAEDC" stroke-width="0.8" fill="none"/>
<path d="M255.8 260.2L262.2 266.6M255.8 266.6L262.2 260.2M259.0 260.2L259.0 266.6" stroke="#7FAEDC" stroke-width="0.8" fill="none"/>
<path d="M262.4 258.1L268.8 264.5M262.4 264.5L268.8 258.1M265.6 258.1L265.6 264.5" stroke="#7FAEDC" stroke-width="0.8" fill="none"/>
<path d="M269.0 260.7L275.4 267.1M269.0 267.1L275.4 260.7M272.2 260.7L272.2 267.1" stroke="#7FAEDC" stroke-width="0.8" fill="none"/>
<path d="M275.6 258.4L282.0 264.8M275.6 264.8L282.0 258.4M278.8 258.4L278.8 264.8" stroke="#7FAEDC" stroke-width="0.8" fill="none"/>
<path d="M282.2 260.7L288.6 267.1M282.2 267.1L288.6 260.7M285.4 260.7L285.4 267.1" stroke="#7FAEDC" stroke-width="0.8" fill="none"/>
<path d="M288.8 259.2L295.2 265.6M288.8 265.6L295.2 259.2M292.0 259.2L292.0 265.6" stroke="#7FAEDC" stroke-width="0.8" fill="none"/>
<path d="M295.4 259.2L301.8 265.6M295.4 265.6L301.8 259.2M298.6 259.2L298.6 265.6" stroke="#7FAEDC" stroke-width="0.8" fill="none"/>
<path d="M302.0 261.0L308.4 267.4M302.0 267.4L308.4 261.0M305.2 261.0L305.2 267.4" stroke="#7FAEDC" stroke-width="0.8" fill="none"/>
<path d="M308.6 261.0L315.0 267.4M308.6 267.4L315.0 261.0M311.8 261.0L311.8 267.4" stroke="#7FAEDC" stroke-width="0.8" fill="none"/>
<path d="M315.2 261.0L321.6 267.4M315.2 267.4L321.6 261.0M318.4 261.0L318.4 267.4" stroke="#7FAEDC" stroke-width="0.8" fill="none"/>
<path d="M321.8 261.0L328.2 267.4M321.8 267.4L328.2 261.0M325.0 261.0L325.0 267.4" stroke="#7FAEDC" stroke-width="0.8" fill="none"/>
<path d="M328.4 261.0L334.8 267.4M328.4 267.4L334.8 261.0M331.6 261.0L331.6 267.4" stroke="#7FAEDC" stroke-width="0.8" fill="none"/>
<path d="M335.0 261.0L341.4 267.4M335.0 267.4L341.4 261.0M338.2 261.0L338.2 267.4" stroke="#7FAEDC" stroke-width="0.8" fill="none"/>
<path d="M341.6 261.0L348.0 267.4M341.6 267.4L348.0 261.0M344.8 261.0L344.8 267.4" stroke="#7FAEDC" stroke-width="0.8" fill="none"/>
<path d="M348.2 261.0L354.6 267.4M348.2 267.4L354.6 261.0M351.4 261.0L351.4 267.4" stroke="#7FAEDC" stroke-width="0.8" fill="none"/>
<path d="M354.8 261.0L361.2 267.4M354.8 267.4L361.2 261.0M358.0 261.0L358.0 267.4" stroke="#7FAEDC" stroke-width="0.8" fill="none"/>
<path d="M361.4 261.0L367.8 267.4M361.4 267.4L367.8 261.0M364.6 261.0L364.6 267.4" stroke="#7FAEDC" stroke-width="0.8" fill="none"/>
<path d="M368.0 261.0L374.4 267.4M368.0 267.4L374.4 261.0M371.2 261.0L371.2 267.4" stroke="#7FAEDC" stroke-width="0.8" fill="none"/>
<path d="M374.6 261.0L381.0 267.4M374.6 267.4L381.0 261.0M377.8 261.0L377.8 267.4" stroke="#7FAEDC" stroke-width="0.8" fill="none"/>
<path d="M381.2 261.0L387.6 267.4M381.2 267.4L387.6 261.0M384.4 261.0L384.4 267.4" stroke="#7FAEDC" stroke-width="0.8" fill="none"/>
<path d="M387.8 261.0L394.2 267.4M387.8 267.4L394.2 261.0M391.0 261.0L391.0 267.4" stroke="#7FAEDC" stroke-width="0.8" fill="none"/>
<path d="M394.4 261.0L400.8 267.4M394.4 267.4L400.8 261.0M397.6 261.0L397.6 267.4" stroke="#7FAEDC" stroke-width="0.8" fill="none"/>
<path d="M401.0 258.9L407.4 265.3M401.0 265.3L407.4 258.9M404.2 258.9L404.2 265.3" stroke="#7FAEDC" stroke-width="0.8" fill="none"/>
<path d="M407.6 261.0L414.0 267.4M407.6 267.4L414.0 261.0M410.8 261.0L410.8 267.4" stroke="#7FAEDC" stroke-width="0.8" fill="none"/>
<path d="M414.2 261.0L420.6 267.4M414.2 267.4L420.6 261.0M417.4 261.0L417.4 267.4" stroke="#7FAEDC" stroke-width="0.8" fill="none"/>
<path d="M420.8 261.0L427.2 267.4M420.8 267.4L427.2 261.0M424.0 261.0L424.0 267.4" stroke="#7FAEDC" stroke-width="0.8" fill="none"/>
<path d="M427.4 256.5L433.8 262.9M427.4 262.9L433.8 256.5M430.6 256.5L430.6 262.9" stroke="#7FAEDC" stroke-width="0.8" fill="none"/>
<path d="M434.0 255.7L440.4 262.1M434.0 262.1L440.4 255.7M437.2 255.7L437.2 262.1" stroke="#7FAEDC" stroke-width="0.8" fill="none"/>
<path d="M440.6 259.2L447.0 265.6M440.6 265.6L447.0 259.2M443.8 259.2L443.8 265.6" stroke="#7FAEDC" stroke-width="0.8" fill="none"/>
<path d="M447.2 258.4L453.6 264.8M447.2 264.8L453.6 258.4M450.4 258.4L450.4 264.8" stroke="#7FAEDC" stroke-width="0.8" fill="none"/>
<path d="M453.8 259.2L460.2 265.6M453.8 265.6L460.2 259.2M457.0 259.2L457.0 265.6" stroke="#7FAEDC" stroke-width="0.8" fill="none"/>
<path d="M460.4 245.5L466.8 251.9M460.4 251.9L466.8 245.5M463.6 245.5L463.6 251.9" stroke="#7FAEDC" stroke-width="0.8" fill="none"/>
<path d="M467.0 260.2L473.4 266.6M467.0 266.6L473.4 260.2M470.2 260.2L470.2 266.6" stroke="#7FAEDC" stroke-width="0.8" fill="none"/>
<path d="M473.6 261.5L480.0 267.9M473.6 267.9L480.0 261.5M476.8 261.5L476.8 267.9" stroke="#7FAEDC" stroke-width="0.8" fill="none"/>
<path d="M480.2 261.0L486.6 267.4M480.2 267.4L486.6 261.0M483.4 261.0L483.4 267.4" stroke="#7FAEDC" stroke-width="0.8" fill="none"/>
<path d="M486.8 258.1L493.2 264.5M486.8 264.5L493.2 258.1M490.0 258.1L490.0 264.5" stroke="#7FAEDC" stroke-width="0.8" fill="none"/>
<path d="M493.4 257.3L499.8 263.7M493.4 263.7L499.8 257.3M496.6 257.3L496.6 263.7" stroke="#7FAEDC" stroke-width="0.8" fill="none"/>
<path d="M500.0 259.2L506.4 265.6M500.0 265.6L506.4 259.2M503.2 259.2L503.2 265.6" stroke="#7FAEDC" stroke-width="0.8" fill="none"/>
<path d="M506.6 259.2L513.0 265.6M506.6 265.6L513.0 259.2M509.8 259.2L509.8 265.6" stroke="#7FAEDC" stroke-width="0.8" fill="none"/>
<path d="M513.2 260.7L519.6 267.1M513.2 267.1L519.6 260.7M516.4 260.7L516.4 267.1" stroke="#7FAEDC" stroke-width="0.8" fill="none"/>
<path d="M519.7 260.7L526.1 267.1M519.7 267.1L526.1 260.7M522.9 260.7L522.9 267.1" stroke="#7FAEDC" stroke-width="0.8" fill="none"/>
<path d="M526.3 260.7L532.7 267.1M526.3 267.1L532.7 260.7M529.5 260.7L529.5 267.1" stroke="#7FAEDC" stroke-width="0.8" fill="none"/>
<path d="M532.9 260.7L539.3 267.1M532.9 267.1L539.3 260.7M536.1 260.7L536.1 267.1" stroke="#7FAEDC" stroke-width="0.8" fill="none"/>
<path d="M539.5 260.7L545.9 267.1M539.5 267.1L545.9 260.7M542.7 260.7L542.7 267.1" stroke="#7FAEDC" stroke-width="0.8" fill="none"/>
<path d="M546.1 260.7L552.5 267.1M546.1 267.1L552.5 260.7M549.3 260.7L549.3 267.1" stroke="#7FAEDC" stroke-width="0.8" fill="none"/>
<path d="M552.7 260.7L559.1 267.1M552.7 267.1L559.1 260.7M555.9 260.7L555.9 267.1" stroke="#7FAEDC" stroke-width="0.8" fill="none"/>
<path d="M559.3 260.7L565.7 267.1M559.3 267.1L565.7 260.7M562.5 260.7L562.5 267.1" stroke="#7FAEDC" stroke-width="0.8" fill="none"/>
<path d="M565.9 253.7L572.3 260.1M565.9 260.1L572.3 253.7M569.1 253.7L569.1 260.1" stroke="#7FAEDC" stroke-width="0.8" fill="none"/>
<path d="M572.5 256.3L578.9 262.7M572.5 262.7L578.9 256.3M575.7 256.3L575.7 262.7" stroke="#7FAEDC" stroke-width="0.8" fill="none"/>
<path d="M579.1 260.2L585.5 266.6M579.1 266.6L585.5 260.2M582.3 260.2L582.3 266.6" stroke="#7FAEDC" stroke-width="0.8" fill="none"/>
<path d="M585.7 261.0L592.1 267.4M585.7 267.4L592.1 261.0M588.9 261.0L588.9 267.4" stroke="#7FAEDC" stroke-width="0.8" fill="none"/>
<path d="M592.3 259.2L598.7 265.6M592.3 265.6L598.7 259.2M595.5 259.2L595.5 265.6" stroke="#7FAEDC" stroke-width="0.8" fill="none"/>
<path d="M598.9 260.5L605.3 266.9M598.9 266.9L605.3 260.5M602.1 260.5L602.1 266.9" stroke="#7FAEDC" stroke-width="0.8" fill="none"/>
<path d="M605.5 260.5L611.9 266.9M605.5 266.9L611.9 260.5M608.7 260.5L608.7 266.9" stroke="#7FAEDC" stroke-width="0.8" fill="none"/>
<path d="M612.1 260.5L618.5 266.9M612.1 266.9L618.5 260.5M615.3 260.5L615.3 266.9" stroke="#7FAEDC" stroke-width="0.8" fill="none"/>
<path d="M618.7 260.5L625.1 266.9M618.7 266.9L625.1 260.5M621.9 260.5L621.9 266.9" stroke="#7FAEDC" stroke-width="0.8" fill="none"/>
<path d="M625.3 260.5L631.7 266.9M625.3 266.9L631.7 260.5M628.5 260.5L628.5 266.9" stroke="#7FAEDC" stroke-width="0.8" fill="none"/>
<path d="M631.9 260.5L638.3 266.9M631.9 266.9L638.3 260.5M635.1 260.5L635.1 266.9" stroke="#7FAEDC" stroke-width="0.8" fill="none"/>
<path d="M638.5 260.5L644.9 266.9M638.5 266.9L644.9 260.5M641.7 260.5L641.7 266.9" stroke="#7FAEDC" stroke-width="0.8" fill="none"/>
<path d="M645.1 260.5L651.5 266.9M645.1 266.9L651.5 260.5M648.3 260.5L648.3 266.9" stroke="#7FAEDC" stroke-width="0.8" fill="none"/>
<path d="M651.7 260.5L658.1 266.9M651.7 266.9L658.1 260.5M654.9 260.5L654.9 266.9" stroke="#7FAEDC" stroke-width="0.8" fill="none"/>
<path d="M658.3 260.5L664.7 266.9M658.3 266.9L664.7 260.5M661.5 260.5L661.5 266.9" stroke="#7FAEDC" stroke-width="0.8" fill="none"/>
<path d="M664.9 260.5L671.3 266.9M664.9 266.9L671.3 260.5M668.1 260.5L668.1 266.9" stroke="#7FAEDC" stroke-width="0.8" fill="none"/>
<path d="M671.5 257.1L677.9 263.5M671.5 263.5L677.9 257.1M674.7 257.1L674.7 263.5" stroke="#7FAEDC" stroke-width="0.8" fill="none"/>
<path d="M678.1 248.1L684.5 254.5M678.1 254.5L684.5 248.1M681.3 248.1L681.3 254.5" stroke="#7FAEDC" stroke-width="0.8" fill="none"/>

<polyline fill="none" stroke="#5E9C3C" stroke-width="1.8" stroke-linejoin="round" stroke-miterlimit="6" stroke-linecap="round" points="28.1,260.0 34.7,263.4 41.3,263.9 47.9,264.2 54.5,264.2 61.1,263.9 67.7,264.2 74.3,264.5 80.9,264.5 87.5,264.7 94.1,265.0 100.7,265.0 107.3,265.0 113.9,265.0 120.5,265.0 127.1,265.0 133.7,265.0 140.3,265.0 146.9,265.0 153.5,265.0 160.1,265.0 166.7,265.0 173.3,265.0 179.9,265.0 186.5,265.0 193.0,265.0 199.6,265.0 206.2,265.0 212.8,265.0 219.4,265.0 226.0,265.2 232.6,265.2 239.2,265.2 245.8,265.2 252.4,265.2 259.0,265.2 265.6,265.2 272.2,265.2 278.8,265.2 285.4,265.2 292.0,265.2 298.6,265.2 305.2,265.2 311.8,265.2 318.4,265.2 325.0,265.2"/>
<polyline fill="none" stroke="#5E9C3C" stroke-width="1.8" stroke-linejoin="round" stroke-miterlimit="6" stroke-linecap="round" points="338.2,265.2 344.8,265.2 351.4,265.2 358.0,265.2 364.6,265.2 371.2,265.2 377.8,265.2 384.4,265.2 391.0,265.2 397.6,265.2"/>
<polyline fill="none" stroke="#5E9C3C" stroke-width="1.8" stroke-linejoin="round" stroke-miterlimit="6" stroke-linecap="round" points="410.8,265.2 417.4,265.2 424.0,265.2 430.6,265.2 437.2,265.2 443.8,265.2 450.4,265.2 457.0,265.2 463.6,265.2 470.2,265.2 476.8,265.2 483.4,265.2 490.0,265.2 496.6,265.2 503.2,265.2 509.8,265.2 516.4,265.2 522.9,265.2 529.5,265.2 536.1,265.2 542.7,265.2 549.3,265.2 555.9,265.2 562.5,265.2 569.1,265.2 575.7,265.2 582.3,265.2 588.9,265.2 595.5,265.2 602.1,265.2 608.7,265.2 615.3,265.2 621.9,265.2 628.5,265.2 635.1,265.2 641.7,265.2 648.3,265.2 654.9,265.2 661.5,265.2 668.1,265.2 674.7,265.2 681.3,265.2"/>

<circle cx="28.1" cy="260.0" r="3.2" fill="#5E9C3C"/>
<circle cx="34.7" cy="263.4" r="3.2" fill="#5E9C3C"/>
<circle cx="41.3" cy="263.9" r="3.2" fill="#5E9C3C"/>
<circle cx="47.9" cy="264.2" r="3.2" fill="#5E9C3C"/>
<circle cx="54.5" cy="264.2" r="3.2" fill="#5E9C3C"/>
<circle cx="61.1" cy="263.9" r="3.2" fill="#5E9C3C"/>
<circle cx="67.7" cy="264.2" r="3.2" fill="#5E9C3C"/>
<circle cx="74.3" cy="264.5" r="3.2" fill="#5E9C3C"/>
<circle cx="80.9" cy="264.5" r="3.2" fill="#5E9C3C"/>
<circle cx="87.5" cy="264.7" r="3.2" fill="#5E9C3C"/>
<circle cx="94.1" cy="265.0" r="3.2" fill="#5E9C3C"/>
<circle cx="100.7" cy="265.0" r="3.2" fill="#5E9C3C"/>
<circle cx="107.3" cy="265.0" r="3.2" fill="#5E9C3C"/>
<circle cx="113.9" cy="265.0" r="3.2" fill="#5E9C3C"/>
<circle cx="120.5" cy="265.0" r="3.2" fill="#5E9C3C"/>
<circle cx="127.1" cy="265.0" r="3.2" fill="#5E9C3C"/>
<circle cx="133.7" cy="265.0" r="3.2" fill="#5E9C3C"/>
<circle cx="140.3" cy="265.0" r="3.2" fill="#5E9C3C"/>
<circle cx="146.9" cy="265.0" r="3.2" fill="#5E9C3C"/>
<circle cx="153.5" cy="265.0" r="3.2" fill="#5E9C3C"/>
<circle cx="160.1" cy="265.0" r="3.2" fill="#5E9C3C"/>
<circle cx="166.7" cy="265.0" r="3.2" fill="#5E9C3C"/>
<circle cx="173.3" cy="265.0" r="3.2" fill="#5E9C3C"/>
<circle cx="179.9" cy="265.0" r="3.2" fill="#5E9C3C"/>
<circle cx="186.5" cy="265.0" r="3.2" fill="#5E9C3C"/>
<circle cx="193.0" cy="265.0" r="3.2" fill="#5E9C3C"/>
<circle cx="199.6" cy="265.0" r="3.2" fill="#5E9C3C"/>
<circle cx="206.2" cy="265.0" r="3.2" fill="#5E9C3C"/>
<circle cx="212.8" cy="265.0" r="3.2" fill="#5E9C3C"/>
<circle cx="219.4" cy="265.0" r="3.2" fill="#5E9C3C"/>
<circle cx="226.0" cy="265.2" r="3.2" fill="#5E9C3C"/>
<circle cx="232.6" cy="265.2" r="3.2" fill="#5E9C3C"/>
<circle cx="239.2" cy="265.2" r="3.2" fill="#5E9C3C"/>
<circle cx="245.8" cy="265.2" r="3.2" fill="#5E9C3C"/>
<circle cx="252.4" cy="265.2" r="3.2" fill="#5E9C3C"/>
<circle cx="259.0" cy="265.2" r="3.2" fill="#5E9C3C"/>
<circle cx="265.6" cy="265.2" r="3.2" fill="#5E9C3C"/>
<circle cx="272.2" cy="265.2" r="3.2" fill="#5E9C3C"/>
<circle cx="278.8" cy="265.2" r="3.2" fill="#5E9C3C"/>
<circle cx="285.4" cy="265.2" r="3.2" fill="#5E9C3C"/>
<circle cx="292.0" cy="265.2" r="3.2" fill="#5E9C3C"/>
<circle cx="298.6" cy="265.2" r="3.2" fill="#5E9C3C"/>
<circle cx="305.2" cy="265.2" r="3.2" fill="#5E9C3C"/>
<circle cx="311.8" cy="265.2" r="3.2" fill="#5E9C3C"/>
<circle cx="318.4" cy="265.2" r="3.2" fill="#5E9C3C"/>
<circle cx="325.0" cy="265.2" r="3.2" fill="#5E9C3C"/>
<circle cx="338.2" cy="265.2" r="3.2" fill="#5E9C3C"/>
<circle cx="344.8" cy="265.2" r="3.2" fill="#5E9C3C"/>
<circle cx="351.4" cy="265.2" r="3.2" fill="#5E9C3C"/>
<circle cx="358.0" cy="265.2" r="3.2" fill="#5E9C3C"/>
<circle cx="364.6" cy="265.2" r="3.2" fill="#5E9C3C"/>
<circle cx="371.2" cy="265.2" r="3.2" fill="#5E9C3C"/>
<circle cx="377.8" cy="265.2" r="3.2" fill="#5E9C3C"/>
<circle cx="384.4" cy="265.2" r="3.2" fill="#5E9C3C"/>
<circle cx="391.0" cy="265.2" r="3.2" fill="#5E9C3C"/>
<circle cx="397.6" cy="265.2" r="3.2" fill="#5E9C3C"/>
<circle cx="410.8" cy="265.2" r="3.2" fill="#5E9C3C"/>
<circle cx="417.4" cy="265.2" r="3.2" fill="#5E9C3C"/>
<circle cx="424.0" cy="265.2" r="3.2" fill="#5E9C3C"/>
<circle cx="430.6" cy="265.2" r="3.2" fill="#5E9C3C"/>
<circle cx="437.2" cy="265.2" r="3.2" fill="#5E9C3C"/>
<circle cx="443.8" cy="265.2" r="3.2" fill="#5E9C3C"/>
<circle cx="450.4" cy="265.2" r="3.2" fill="#5E9C3C"/>
<circle cx="457.0" cy="265.2" r="3.2" fill="#5E9C3C"/>
<circle cx="463.6" cy="265.2" r="3.2" fill="#5E9C3C"/>
<circle cx="470.2" cy="265.2" r="3.2" fill="#5E9C3C"/>
<circle cx="476.8" cy="265.2" r="3.2" fill="#5E9C3C"/>
<circle cx="483.4" cy="265.2" r="3.2" fill="#5E9C3C"/>
<circle cx="490.0" cy="265.2" r="3.2" fill="#5E9C3C"/>
<circle cx="496.6" cy="265.2" r="3.2" fill="#5E9C3C"/>
<circle cx="503.2" cy="265.2" r="3.2" fill="#5E9C3C"/>
<circle cx="509.8" cy="265.2" r="3.2" fill="#5E9C3C"/>
<circle cx="516.4" cy="265.2" r="3.2" fill="#5E9C3C"/>
<circle cx="522.9" cy="265.2" r="3.2" fill="#5E9C3C"/>
<circle cx="529.5" cy="265.2" r="3.2" fill="#5E9C3C"/>
<circle cx="536.1" cy="265.2" r="3.2" fill="#5E9C3C"/>
<circle cx="542.7" cy="265.2" r="3.2" fill="#5E9C3C"/>
<circle cx="549.3" cy="265.2" r="3.2" fill="#5E9C3C"/>
<circle cx="555.9" cy="265.2" r="3.2" fill="#5E9C3C"/>
<circle cx="562.5" cy="265.2" r="3.2" fill="#5E9C3C"/>
<circle cx="569.1" cy="265.2" r="3.2" fill="#5E9C3C"/>
<circle cx="575.7" cy="265.2" r="3.2" fill="#5E9C3C"/>
<circle cx="582.3" cy="265.2" r="3.2" fill="#5E9C3C"/>
<circle cx="588.9" cy="265.2" r="3.2" fill="#5E9C3C"/>
<circle cx="595.5" cy="265.2" r="3.2" fill="#5E9C3C"/>
<circle cx="602.1" cy="265.2" r="3.2" fill="#5E9C3C"/>
<circle cx="608.7" cy="265.2" r="3.2" fill="#5E9C3C"/>
<circle cx="615.3" cy="265.2" r="3.2" fill="#5E9C3C"/>
<circle cx="621.9" cy="265.2" r="3.2" fill="#5E9C3C"/>
<circle cx="628.5" cy="265.2" r="3.2" fill="#5E9C3C"/>
<circle cx="635.1" cy="265.2" r="3.2" fill="#5E9C3C"/>
<circle cx="641.7" cy="265.2" r="3.2" fill="#5E9C3C"/>
<circle cx="648.3" cy="265.2" r="3.2" fill="#5E9C3C"/>
<circle cx="654.9" cy="265.2" r="3.2" fill="#5E9C3C"/>
<circle cx="661.5" cy="265.2" r="3.2" fill="#5E9C3C"/>
<circle cx="668.1" cy="265.2" r="3.2" fill="#5E9C3C"/>
<circle cx="674.7" cy="265.2" r="3.2" fill="#5E9C3C"/>
<circle cx="681.3" cy="265.2" r="3.2" fill="#5E9C3C"/>

<polyline fill="none" stroke="#3F68B8" stroke-width="1.8" stroke-linejoin="round" stroke-miterlimit="6" stroke-linecap="round" points="28.1,265.5 34.7,265.5 41.3,265.5 47.9,265.5 54.5,265.5 61.1,265.5 67.7,265.5 74.3,265.5 80.9,265.5 87.5,265.5 94.1,265.5 100.7,265.5 107.3,265.5 113.9,265.5 120.5,265.5 127.1,265.5 133.7,265.5"/>
<polyline fill="none" stroke="#3F68B8" stroke-width="1.8" stroke-linejoin="round" stroke-miterlimit="6" stroke-linecap="round" points="146.9,265.5 153.5,265.5 160.1,265.5 166.7,265.5 173.3,265.5 179.9,265.5 186.5,265.5 193.0,265.5 199.6,265.5 206.2,265.5 212.8,265.5 219.4,265.5 226.0,265.5 232.6,265.5 239.2,265.5 245.8,265.5 252.4,265.5 259.0,265.5"/>
<polyline fill="none" stroke="#3F68B8" stroke-width="1.8" stroke-linejoin="round" stroke-miterlimit="6" stroke-linecap="round" points="272.2,265.5 278.8,265.5 285.4,265.5 292.0,265.5 298.6,265.5 305.2,265.5 311.8,265.5 318.4,265.5 325.0,265.5 331.6,265.5"/>
<polyline fill="none" stroke="#3F68B8" stroke-width="1.8" stroke-linejoin="round" stroke-miterlimit="6" stroke-linecap="round" points="344.8,265.5 351.4,265.5 358.0,265.5 364.6,265.5 371.2,265.5 377.8,265.5 384.4,265.5 391.0,265.5 397.6,265.5 404.2,265.5"/>
<polyline fill="none" stroke="#3F68B8" stroke-width="1.8" stroke-linejoin="round" stroke-miterlimit="6" stroke-linecap="round" points="417.4,265.5 424.0,265.5 430.6,265.5 437.2,265.5 443.8,265.5 450.4,265.5 457.0,265.5 463.6,265.5 470.2,265.5 476.8,265.5 483.4,265.5 490.0,265.5 496.6,265.5 503.2,265.5 509.8,265.5 516.4,265.5 522.9,265.5 529.5,265.5"/>
<polyline fill="none" stroke="#3F68B8" stroke-width="1.8" stroke-linejoin="round" stroke-miterlimit="6" stroke-linecap="round" points="542.7,265.5 549.3,265.5 555.9,265.5 562.5,265.5 569.1,265.5 575.7,265.5"/>
<polyline fill="none" stroke="#3F68B8" stroke-width="1.8" stroke-linejoin="round" stroke-miterlimit="6" stroke-linecap="round" points="588.9,265.5 595.5,265.5 602.1,265.5 608.7,265.5 615.3,265.5 621.9,265.5 628.5,265.5 635.1,265.5 641.7,265.5 648.3,265.5 654.9,265.5 661.5,265.5 668.1,265.5 674.7,265.5 681.3,265.5"/>

<path d="M28.1 262.2L31.2 265.5L28.1 268.8L25.0 265.5Z" fill="#3F68B8"/>
<path d="M34.7 262.2L37.8 265.5L34.7 268.8L31.6 265.5Z" fill="#3F68B8"/>
<path d="M41.3 262.2L44.4 265.5L41.3 268.8L38.2 265.5Z" fill="#3F68B8"/>
<path d="M47.9 262.2L51.0 265.5L47.9 268.8L44.8 265.5Z" fill="#3F68B8"/>
<path d="M54.5 262.2L57.6 265.5L54.5 268.8L51.4 265.5Z" fill="#3F68B8"/>
<path d="M61.1 262.2L64.2 265.5L61.1 268.8L58.0 265.5Z" fill="#3F68B8"/>
<path d="M67.7 262.2L70.8 265.5L67.7 268.8L64.6 265.5Z" fill="#3F68B8"/>
<path d="M74.3 262.2L77.4 265.5L74.3 268.8L71.2 265.5Z" fill="#3F68B8"/>
<path d="M80.9 262.2L84.0 265.5L80.9 268.8L77.8 265.5Z" fill="#3F68B8"/>
<path d="M87.5 262.2L90.6 265.5L87.5 268.8L84.4 265.5Z" fill="#3F68B8"/>
<path d="M94.1 262.2L97.2 265.5L94.1 268.8L91.0 265.5Z" fill="#3F68B8"/>
<path d="M100.7 262.2L103.8 265.5L100.7 268.8L97.6 265.5Z" fill="#3F68B8"/>
<path d="M107.3 262.2L110.4 265.5L107.3 268.8L104.2 265.5Z" fill="#3F68B8"/>
<path d="M113.9 262.2L117.0 265.5L113.9 268.8L110.8 265.5Z" fill="#3F68B8"/>
<path d="M120.5 262.2L123.6 265.5L120.5 268.8L117.4 265.5Z" fill="#3F68B8"/>
<path d="M127.1 262.2L130.2 265.5L127.1 268.8L124.0 265.5Z" fill="#3F68B8"/>
<path d="M133.7 262.2L136.8 265.5L133.7 268.8L130.6 265.5Z" fill="#3F68B8"/>
<path d="M146.9 262.2L150.0 265.5L146.9 268.8L143.8 265.5Z" fill="#3F68B8"/>
<path d="M153.5 262.2L156.6 265.5L153.5 268.8L150.4 265.5Z" fill="#3F68B8"/>
<path d="M160.1 262.2L163.2 265.5L160.1 268.8L157.0 265.5Z" fill="#3F68B8"/>
<path d="M166.7 262.2L169.8 265.5L166.7 268.8L163.6 265.5Z" fill="#3F68B8"/>
<path d="M173.3 262.2L176.4 265.5L173.3 268.8L170.2 265.5Z" fill="#3F68B8"/>
<path d="M179.9 262.2L183.0 265.5L179.9 268.8L176.8 265.5Z" fill="#3F68B8"/>
<path d="M186.5 262.2L189.6 265.5L186.5 268.8L183.4 265.5Z" fill="#3F68B8"/>
<path d="M193.0 262.2L196.1 265.5L193.0 268.8L189.9 265.5Z" fill="#3F68B8"/>
<path d="M199.6 262.2L202.7 265.5L199.6 268.8L196.5 265.5Z" fill="#3F68B8"/>
<path d="M206.2 262.2L209.3 265.5L206.2 268.8L203.1 265.5Z" fill="#3F68B8"/>
<path d="M212.8 262.2L215.9 265.5L212.8 268.8L209.7 265.5Z" fill="#3F68B8"/>
<path d="M219.4 262.2L222.5 265.5L219.4 268.8L216.3 265.5Z" fill="#3F68B8"/>
<path d="M226.0 262.2L229.1 265.5L226.0 268.8L222.9 265.5Z" fill="#3F68B8"/>
<path d="M232.6 262.2L235.7 265.5L232.6 268.8L229.5 265.5Z" fill="#3F68B8"/>
<path d="M239.2 262.2L242.3 265.5L239.2 268.8L236.1 265.5Z" fill="#3F68B8"/>
<path d="M245.8 262.2L248.9 265.5L245.8 268.8L242.7 265.5Z" fill="#3F68B8"/>
<path d="M252.4 262.2L255.5 265.5L252.4 268.8L249.3 265.5Z" fill="#3F68B8"/>
<path d="M259.0 262.2L262.1 265.5L259.0 268.8L255.9 265.5Z" fill="#3F68B8"/>
<path d="M272.2 262.2L275.3 265.5L272.2 268.8L269.1 265.5Z" fill="#3F68B8"/>
<path d="M278.8 262.2L281.9 265.5L278.8 268.8L275.7 265.5Z" fill="#3F68B8"/>
<path d="M285.4 262.2L288.5 265.5L285.4 268.8L282.3 265.5Z" fill="#3F68B8"/>
<path d="M292.0 262.2L295.1 265.5L292.0 268.8L288.9 265.5Z" fill="#3F68B8"/>
<path d="M298.6 262.2L301.7 265.5L298.6 268.8L295.5 265.5Z" fill="#3F68B8"/>
<path d="M305.2 262.2L308.3 265.5L305.2 268.8L302.1 265.5Z" fill="#3F68B8"/>
<path d="M311.8 262.2L314.9 265.5L311.8 268.8L308.7 265.5Z" fill="#3F68B8"/>
<path d="M318.4 262.2L321.5 265.5L318.4 268.8L315.3 265.5Z" fill="#3F68B8"/>
<path d="M325.0 262.2L328.1 265.5L325.0 268.8L321.9 265.5Z" fill="#3F68B8"/>
<path d="M331.6 262.2L334.7 265.5L331.6 268.8L328.5 265.5Z" fill="#3F68B8"/>
<path d="M344.8 262.2L347.9 265.5L344.8 268.8L341.7 265.5Z" fill="#3F68B8"/>
<path d="M351.4 262.2L354.5 265.5L351.4 268.8L348.3 265.5Z" fill="#3F68B8"/>
<path d="M358.0 262.2L361.1 265.5L358.0 268.8L354.9 265.5Z" fill="#3F68B8"/>
<path d="M364.6 262.2L367.7 265.5L364.6 268.8L361.5 265.5Z" fill="#3F68B8"/>
<path d="M371.2 262.2L374.3 265.5L371.2 268.8L368.1 265.5Z" fill="#3F68B8"/>
<path d="M377.8 262.2L380.9 265.5L377.8 268.8L374.7 265.5Z" fill="#3F68B8"/>
<path d="M384.4 262.2L387.5 265.5L384.4 268.8L381.3 265.5Z" fill="#3F68B8"/>
<path d="M391.0 262.2L394.1 265.5L391.0 268.8L387.9 265.5Z" fill="#3F68B8"/>
<path d="M397.6 262.2L400.7 265.5L397.6 268.8L394.5 265.5Z" fill="#3F68B8"/>
<path d="M404.2 262.2L407.3 265.5L404.2 268.8L401.1 265.5Z" fill="#3F68B8"/>
<path d="M417.4 262.2L420.5 265.5L417.4 268.8L414.3 265.5Z" fill="#3F68B8"/>
<path d="M424.0 262.2L427.1 265.5L424.0 268.8L420.9 265.5Z" fill="#3F68B8"/>
<path d="M430.6 262.2L433.7 265.5L430.6 268.8L427.5 265.5Z" fill="#3F68B8"/>
<path d="M437.2 262.2L440.3 265.5L437.2 268.8L434.1 265.5Z" fill="#3F68B8"/>
<path d="M443.8 262.2L446.9 265.5L443.8 268.8L440.7 265.5Z" fill="#3F68B8"/>
<path d="M450.4 262.2L453.5 265.5L450.4 268.8L447.3 265.5Z" fill="#3F68B8"/>
<path d="M457.0 262.2L460.1 265.5L457.0 268.8L453.9 265.5Z" fill="#3F68B8"/>
<path d="M463.6 262.2L466.7 265.5L463.6 268.8L460.5 265.5Z" fill="#3F68B8"/>
<path d="M470.2 262.2L473.3 265.5L470.2 268.8L467.1 265.5Z" fill="#3F68B8"/>
<path d="M476.8 262.2L479.9 265.5L476.8 268.8L473.7 265.5Z" fill="#3F68B8"/>
<path d="M483.4 262.2L486.5 265.5L483.4 268.8L480.3 265.5Z" fill="#3F68B8"/>
<path d="M490.0 262.2L493.1 265.5L490.0 268.8L486.9 265.5Z" fill="#3F68B8"/>
<path d="M496.6 262.2L499.7 265.5L496.6 268.8L493.5 265.5Z" fill="#3F68B8"/>
<path d="M503.2 262.2L506.3 265.5L503.2 268.8L500.1 265.5Z" fill="#3F68B8"/>
<path d="M509.8 262.2L512.9 265.5L509.8 268.8L506.7 265.5Z" fill="#3F68B8"/>
<path d="M516.4 262.2L519.5 265.5L516.4 268.8L513.3 265.5Z" fill="#3F68B8"/>
<path d="M522.9 262.2L526.0 265.5L522.9 268.8L519.8 265.5Z" fill="#3F68B8"/>
<path d="M529.5 262.2L532.6 265.5L529.5 268.8L526.4 265.5Z" fill="#3F68B8"/>
<path d="M542.7 262.2L545.8 265.5L542.7 268.8L539.6 265.5Z" fill="#3F68B8"/>
<path d="M549.3 262.2L552.4 265.5L549.3 268.8L546.2 265.5Z" fill="#3F68B8"/>
<path d="M555.9 262.2L559.0 265.5L555.9 268.8L552.8 265.5Z" fill="#3F68B8"/>
<path d="M562.5 262.2L565.6 265.5L562.5 268.8L559.4 265.5Z" fill="#3F68B8"/>
<path d="M569.1 262.2L572.2 265.5L569.1 268.8L566.0 265.5Z" fill="#3F68B8"/>
<path d="M575.7 262.2L578.8 265.5L575.7 268.8L572.6 265.5Z" fill="#3F68B8"/>
<path d="M588.9 262.2L592.0 265.5L588.9 268.8L585.8 265.5Z" fill="#3F68B8"/>
<path d="M595.5 262.2L598.6 265.5L595.5 268.8L592.4 265.5Z" fill="#3F68B8"/>
<path d="M602.1 262.2L605.2 265.5L602.1 268.8L599.0 265.5Z" fill="#3F68B8"/>
<path d="M608.7 262.2L611.8 265.5L608.7 268.8L605.6 265.5Z" fill="#3F68B8"/>
<path d="M615.3 262.2L618.4 265.5L615.3 268.8L612.2 265.5Z" fill="#3F68B8"/>
<path d="M621.9 262.2L625.0 265.5L621.9 268.8L618.8 265.5Z" fill="#3F68B8"/>
<path d="M628.5 262.2L631.6 265.5L628.5 268.8L625.4 265.5Z" fill="#3F68B8"/>
<path d="M635.1 262.2L638.2 265.5L635.1 268.8L632.0 265.5Z" fill="#3F68B8"/>
<path d="M641.7 262.2L644.8 265.5L641.7 268.8L638.6 265.5Z" fill="#3F68B8"/>
<path d="M648.3 262.2L651.4 265.5L648.3 268.8L645.2 265.5Z" fill="#3F68B8"/>
<path d="M654.9 262.2L658.0 265.5L654.9 268.8L651.8 265.5Z" fill="#3F68B8"/>
<path d="M661.5 262.2L664.6 265.5L661.5 268.8L658.4 265.5Z" fill="#3F68B8"/>
<path d="M668.1 262.2L671.2 265.5L668.1 268.8L665.0 265.5Z" fill="#3F68B8"/>
<path d="M674.7 262.2L677.8 265.5L674.7 268.8L671.6 265.5Z" fill="#3F68B8"/>
<path d="M681.3 262.2L684.4 265.5L681.3 268.8L678.2 265.5Z" fill="#3F68B8"/>

<g font-family="Liberation Sans, sans-serif" font-size="10" fill="#111">
<path d="M466 13.3H487" stroke="#999999" stroke-width="1.8"/>
<path d="M476.3 9.9L479.8 16.3L472.8 16.3Z" fill="#999999"/>
<text x="489" y="16.9" textLength="143.4" lengthAdjust="spacingAndGlyphs">Gestational age, wk 24-27+6</text>
<path d="M466 28.0H487" stroke="#E3A81A" stroke-width="1.8"/>
<path d="M473.1 24.8L479.5 31.2M473.1 31.2L479.5 24.8" stroke="#ECBE55" stroke-width="0.8" fill="none"/>
<text x="489" y="31.6" textLength="143.4" lengthAdjust="spacingAndGlyphs">Gestational age, wk 28-31+6</text>
<path d="M466 42.9H487" stroke="#5B94CC" stroke-width="1.8"/>
<path d="M473.1 39.7L479.5 46.1M473.1 46.1L479.5 39.7M476.3 39.7L476.3 46.1" stroke="#7FAEDC" stroke-width="0.8" fill="none"/>
<text x="489" y="46.5" textLength="143.4" lengthAdjust="spacingAndGlyphs">Gestational age, wk 32-33+6</text>
<path d="M466 57.6H487" stroke="#5E9C3C" stroke-width="1.8"/>
<circle cx="476.3" cy="57.6" r="3.2" fill="#5E9C3C"/>
<text x="489" y="61.2" textLength="143.4" lengthAdjust="spacingAndGlyphs">Gestational age, wk 34-36+6</text>
<path d="M466 72.6H487" stroke="#3F68B8" stroke-width="1.8"/>
<path d="M476.3 69.3L479.4 72.6L476.3 75.9L473.2 72.6Z" fill="#3F68B8"/>
<text x="489" y="76.2" textLength="119.5" lengthAdjust="spacingAndGlyphs">Gestational age, wk ≥37</text>
</g>
</svg>
</body></html>
